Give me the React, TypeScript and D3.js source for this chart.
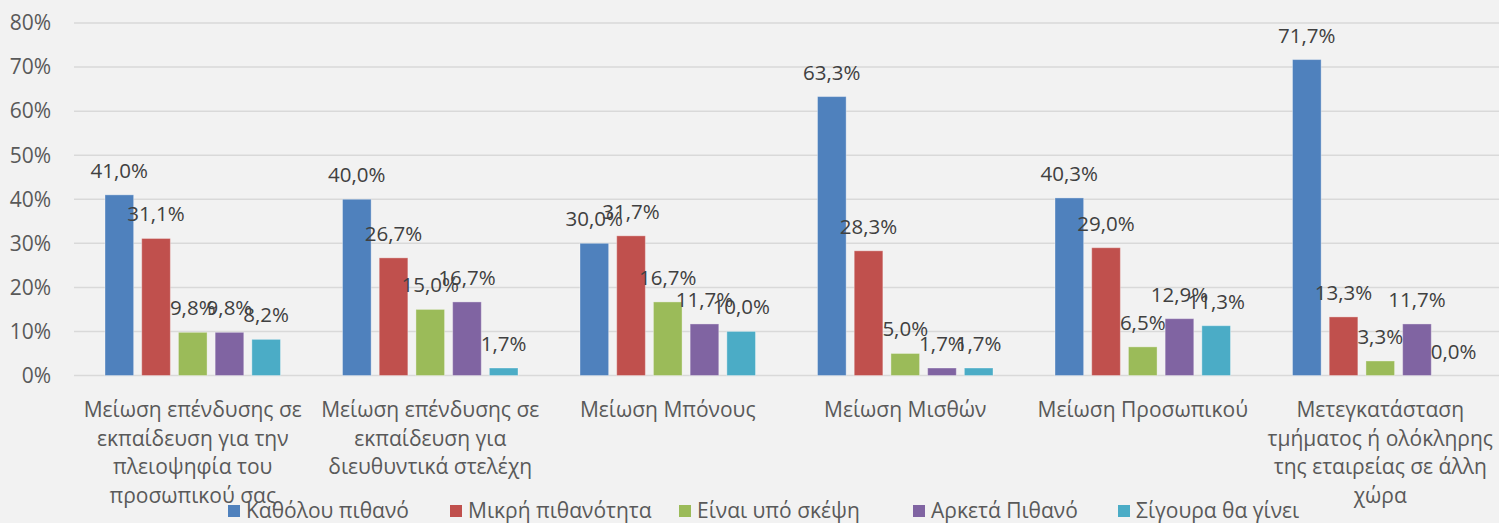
import { useEffect, useRef } from 'react';
import * as d3 from 'd3';

// Chart data
const categories = [
  'Μείωση επένδυσης σε εκπαίδευση για την πλειοψηφία του προσωπικού σας',
  'Μείωση επένδυσης σε εκπαίδευση για διευθυντικά στελέχη',
  'Μείωση Μπόνους',
  'Μείωση Μισθών',
  'Μείωση Προσωπικού',
  'Μετεγκατάσταση τμήματος ή ολόκληρης της εταιρείας σε άλλη χώρα',
];
const categoryLines = [
  ['Μείωση επένδυσης σε', 'εκπαίδευση για την', 'πλειοψηφία του', 'προσωπικού σας'],
  ['Μείωση επένδυσης σε', 'εκπαίδευση για', 'διευθυντικά στελέχη'],
  ['Μείωση Μπόνους'],
  ['Μείωση Μισθών'],
  ['Μείωση Προσωπικού'],
  ['Μετεγκατάσταση', 'τμήματος ή ολόκληρης', 'της εταιρείας σε άλλη', 'χώρα'],
];
const seriesNames = ['Καθόλου πιθανό', 'Μικρή πιθανότητα', 'Είναι υπό σκέψη', 'Αρκετά Πιθανό', 'Σίγουρα θα γίνει'];
const katholou = [41.0, 40.0, 30.0, 63.3, 40.3, 71.7];
const mikri = [31.1, 26.7, 31.7, 28.3, 29.0, 13.3];
const skepsi = [9.8, 15.0, 16.7, 5.0, 6.5, 3.3];
const arketa = [9.8, 16.7, 11.7, 1.7, 12.9, 11.7];
const sigoura = [8.2, 1.7, 10.0, 1.7, 11.3, 0.0];
const seriesValues = [katholou, mikri, skepsi, arketa, sigoura];
const yTicks = [0, 10, 20, 30, 40, 50, 60, 70, 80];

const colors = ['#4f81bd', '#c0504d', '#9bbb59', '#8064a2', '#4bacc6'];
const font = '"Open Sans", sans-serif';

export default function App() {
  const svgRef = useRef<SVGSVGElement>(null);

  useEffect(() => {
    if (!svgRef.current) return;
    const svg = d3.select(svgRef.current);
    svg.selectAll('*').remove();

    const width = 1499;
    const height = 523;
    const plot = { left: 74, right: 1499, top: 23, bottom: 375.5 };

    svg.append('rect').attr('width', width).attr('height', height).attr('fill', '#f2f2f2');

    const y = d3.scaleLinear().domain([0, 80]).range([plot.bottom, plot.top]);
    const x0 = d3.scaleBand<string>().domain(categories).range([plot.left, plot.right]);
    const inset = 31;
    const x1 = d3
      .scaleBand<string>()
      .domain(seriesNames)
      .range([inset, x0.bandwidth() - inset])
      .paddingInner(0.22);

    // gridlines
    svg
      .append('g')
      .selectAll('line')
      .data(yTicks)
      .join('line')
      .attr('x1', plot.left)
      .attr('x2', plot.right)
      .attr('y1', (d) => y(d))
      .attr('y2', (d) => y(d))
      .attr('stroke', '#d9d9d9')
      .attr('stroke-width', 1.5);

    // y tick labels
    svg
      .append('g')
      .selectAll('text')
      .data(yTicks)
      .join('text')
      .attr('x', 51)
      .attr('y', (d) => y(d))
      .attr('dy', '0.35em')
      .attr('text-anchor', 'end')
      .attr('font-family', font)
      .attr('font-size', 21)
      .attr('fill', '#595959')
      .text((d) => `${d}%`);

    // bars
    const groups = svg
      .append('g')
      .selectAll('g')
      .data(categories)
      .join('g')
      .attr('transform', (d) => `translate(${x0(d)},0)`);

    seriesNames.forEach((name, si) => {
      groups
        .append('rect')
        .attr('x', x1(name)!)
        .attr('width', x1.bandwidth())
        .attr('y', (_, ci) => y(seriesValues[si][ci]))
        .attr('height', (_, ci) => plot.bottom - y(seriesValues[si][ci]))
        .attr('fill', colors[si])
        .attr('stroke', 'rgba(255,255,255,0.35)')
        .attr('stroke-width', 1);
    });

    seriesNames.forEach((name, si) => {
      groups
        .append('text')
        .attr('x', x1(name)! + x1.bandwidth() / 2)
        .attr('y', (_, ci) => y(seriesValues[si][ci]) - 17)
        .attr('text-anchor', 'middle')
        .attr('font-family', font)
        .attr('font-size', 20.5)
        .attr('fill', '#404040')
        .text((_, ci) => `${seriesValues[si][ci].toFixed(1).replace('.', ',')}%`);
    });

    // category labels
    groups.each(function (_, ci) {
      const t = d3
        .select(this)
        .append('text')
        .attr('text-anchor', 'middle')
        .attr('font-family', font)
        .attr('font-size', 21)
        .attr('fill', '#595959');
      categoryLines[ci].forEach((line, li) => {
        t.append('tspan')
          .attr('x', x0.bandwidth() / 2)
          .attr('y', 417 + li * 28.7)
          .text(line);
      });
    });

    // legend
    const legendX = [228, 450, 679, 913, 1118];
    const legend = svg
      .append('g')
      .selectAll('g')
      .data(seriesNames)
      .join('g')
      .attr('transform', (_, i) => `translate(${legendX[i]},511)`);
    legend
      .append('rect')
      .attr('x', 0)
      .attr('y', -6)
      .attr('width', 12)
      .attr('height', 12)
      .attr('fill', (_, i) => colors[i]);
    legend
      .append('text')
      .attr('x', 18)
      .attr('dy', '0.35em')
      .attr('font-family', font)
      .attr('font-size', 21)
      .attr('fill', '#595959')
      .text((d) => d);
  }, []);

  return (
    <svg
      ref={svgRef}
      width={1499}
      height={523}
      style={{ position: 'absolute', left: 0, top: 0, display: 'block' }}
    />
  );
}
